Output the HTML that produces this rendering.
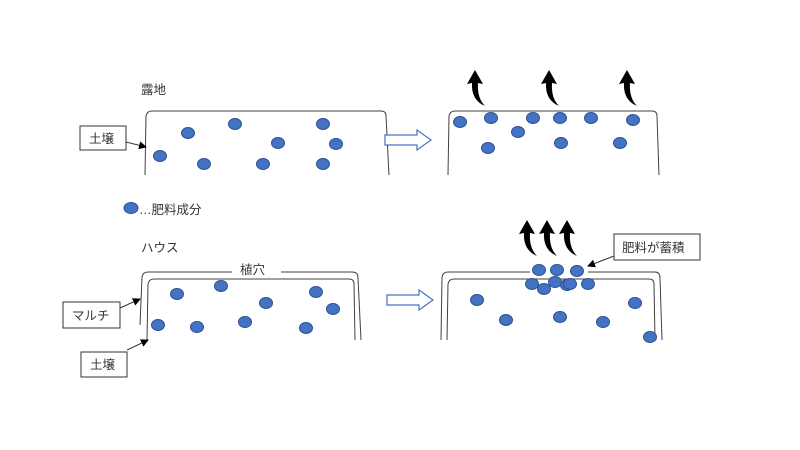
<!DOCTYPE html>
<html><head><meta charset="utf-8"><style>
html,body{margin:0;padding:0;background:#fff;}
svg{display:block}
text{font-family:"Liberation Sans","Noto Sans CJK JP",sans-serif;font-size:12.5px;fill:#333}
</style></head><body>
<svg width="800" height="450" viewBox="0 0 800 450">
<defs>
<marker id="ah" markerWidth="8" markerHeight="8" refX="7" refY="4" orient="auto" markerUnits="userSpaceOnUse"><path d="M0,0 L8,4 L0,8 Z" fill="#000"/></marker>
<path id="ca" d="M0,0 L8,14 L3,13 Q2,28 10,36 Q-4,30 -3,13 L-8,14 Z" fill="#000"/>
<g id="hol"><path d="M0,5 L32,5 L32,0 L46,10 L32,20 L32,15 L0,15 Z" fill="#fff" stroke="#4472C4" stroke-width="1.2"/></g>
</defs>
<g fill="none" stroke="#404040" stroke-width="1">
<path d="M145,175 L146,116 Q147,111 152,111 L381,111 Q386,111 386,116 L389,175"/>
<path d="M448,175 L449,116 Q450,111 455,111 L652,111 Q657,111 657,116 L659,175"/>
<path d="M140,325 L142,277 Q143,272 148,272 L232,272 M281,272 L352,272 Q358,272 358,278 L361,340"/>
<path d="M147,340 L148,284 Q149,279 154,279 L349,279 Q354,279 354,284 L355,340"/>
<path d="M441,340 L442,277 Q443,272 448,272 L530,272 M588,272 L655,272 Q660,272 660,278 L662,340"/>
<path d="M447,340 L448,284 Q449,279 454,279 L649,279 Q654,279 654,284 L655,340"/>
</g>
<g fill="#fff" stroke="#333" stroke-width="1">
<rect x="80" y="126" width="46" height="24"/>
<rect x="63" y="302" width="57" height="26"/>
<rect x="81" y="352" width="46" height="25"/>
<rect x="614" y="234" width="86" height="26"/>
</g>
<g stroke="#333" stroke-width="1" marker-end="url(#ah)">
<line x1="126" y1="142" x2="146" y2="147"/>
<line x1="120" y1="308" x2="140" y2="299"/>
<line x1="127" y1="350" x2="148" y2="340"/>
<line x1="614" y1="256" x2="588" y2="266"/>
</g>
<text x="89" y="143">土壌</text>
<text x="72" y="320">マルチ</text>
<text x="90" y="369">土壌</text>
<text x="622" y="252">肥料が蓄積</text>
<text x="141" y="94">露地</text>
<text x="141" y="252">ハウス</text>
<text x="240" y="274">植穴</text>
<text x="139" y="214">…肥料成分</text>
<use href="#hol" x="385" y="130"/>
<use href="#hol" x="387" y="290"/>
<use href="#ca" x="475" y="70"/>
<use href="#ca" x="549" y="70"/>
<use href="#ca" x="627" y="70"/>
<use href="#ca" x="527" y="220"/>
<use href="#ca" x="547" y="220"/>
<use href="#ca" x="567" y="220"/>
<g fill="#4472C4" stroke="#2F528F" stroke-width="1">
<ellipse cx="131" cy="208" rx="7" ry="5.5"/>
<ellipse cx="188" cy="133" rx="6.5" ry="5.5"/><ellipse cx="235" cy="124" rx="6.5" ry="5.5"/><ellipse cx="323" cy="124" rx="6.5" ry="5.5"/>
<ellipse cx="278" cy="143" rx="6.5" ry="5.5"/><ellipse cx="336" cy="144" rx="6.5" ry="5.5"/><ellipse cx="160" cy="156" rx="6.5" ry="5.5"/>
<ellipse cx="204" cy="164" rx="6.5" ry="5.5"/><ellipse cx="263" cy="164" rx="6.5" ry="5.5"/><ellipse cx="323" cy="164" rx="6.5" ry="5.5"/>
<ellipse cx="460" cy="122" rx="6.5" ry="5.5"/><ellipse cx="491" cy="118" rx="6.5" ry="5.5"/><ellipse cx="533" cy="118" rx="6.5" ry="5.5"/>
<ellipse cx="560" cy="118" rx="6.5" ry="5.5"/><ellipse cx="591" cy="118" rx="6.5" ry="5.5"/><ellipse cx="633" cy="120" rx="6.5" ry="5.5"/>
<ellipse cx="518" cy="132" rx="6.5" ry="5.5"/><ellipse cx="488" cy="148" rx="6.5" ry="5.5"/><ellipse cx="561" cy="143" rx="6.5" ry="5.5"/><ellipse cx="620" cy="143" rx="6.5" ry="5.5"/>
<ellipse cx="177" cy="294" rx="6.5" ry="5.5"/><ellipse cx="221" cy="286" rx="6.5" ry="5.5"/><ellipse cx="316" cy="292" rx="6.5" ry="5.5"/>
<ellipse cx="266" cy="303" rx="6.5" ry="5.5"/><ellipse cx="333" cy="309" rx="6.5" ry="5.5"/><ellipse cx="158" cy="325" rx="6.5" ry="5.5"/>
<ellipse cx="197" cy="327" rx="6.5" ry="5.5"/><ellipse cx="245" cy="322" rx="6.5" ry="5.5"/><ellipse cx="306" cy="328" rx="6.5" ry="5.5"/>
<ellipse cx="539" cy="270" rx="6.5" ry="5.5"/><ellipse cx="557" cy="270" rx="6.5" ry="5.5"/><ellipse cx="577" cy="271" rx="6.5" ry="5.5"/>
<ellipse cx="532" cy="284" rx="6.5" ry="5.5"/><ellipse cx="588" cy="284" rx="6.5" ry="5.5"/><ellipse cx="567" cy="285" rx="6.5" ry="5.5"/>
<ellipse cx="570" cy="284" rx="6.5" ry="5.5"/><ellipse cx="555" cy="282" rx="6.5" ry="5.5"/><ellipse cx="544" cy="289" rx="6.5" ry="5.5"/>
<ellipse cx="477" cy="300" rx="6.5" ry="5.5"/><ellipse cx="506" cy="320" rx="6.5" ry="5.5"/><ellipse cx="560" cy="317" rx="6.5" ry="5.5"/>
<ellipse cx="603" cy="322" rx="6.5" ry="5.5"/><ellipse cx="635" cy="303" rx="6.5" ry="5.5"/><ellipse cx="650" cy="337" rx="6.5" ry="5.5"/>
</g>
</svg>
</body></html>
